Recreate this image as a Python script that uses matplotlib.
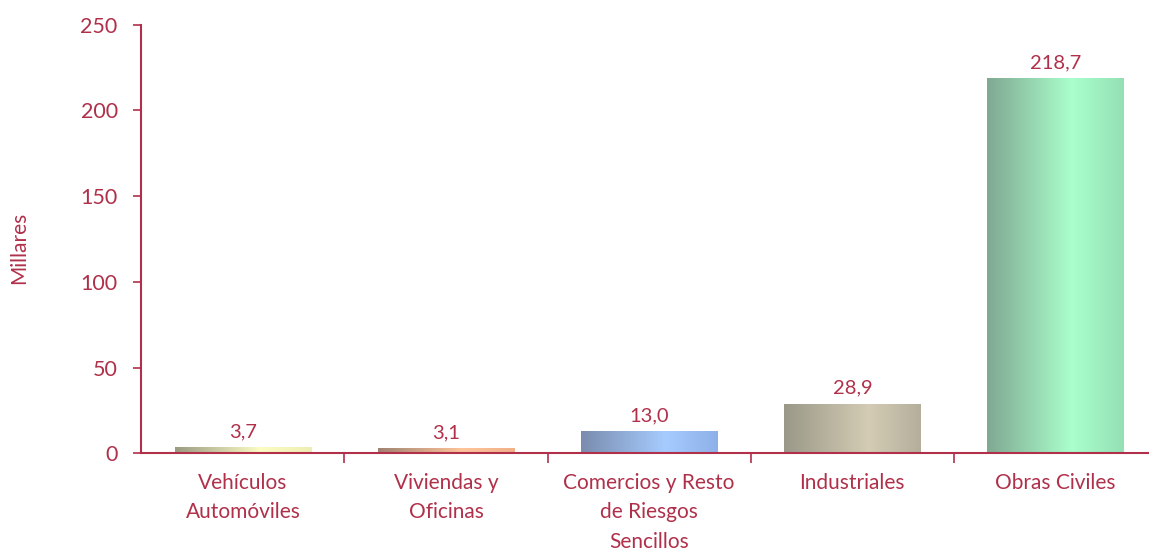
import numpy as np
import matplotlib.pyplot as plt
from matplotlib.colors import LinearSegmentedColormap

categories = [
    "Vehículos\nAutomóviles",
    "Viviendas y\nOficinas",
    "Comercios y Resto\nde Riesgos\nSencillos",
    "Industriales",
    "Obras Civiles",
]
values = [3.7, 3.1, 13.0, 28.9, 218.7]
value_labels = ["3,7", "3,1", "13,0", "28,9", "218,7"]

# dark edge, light highlight, right edge
bar_colors = [
    ("#9a9a82", "#fbfbc4", "#eeeeb4"),
    ("#a08272", "#ffc49a", "#f0b08a"),
    ("#7a8cae", "#a6ccff", "#8eb0e8"),
    ("#9a9888", "#d4ccb4", "#b4ae9c"),
    ("#80a892", "#aaffcc", "#94e0b4"),
]

red = "#b0304a"
plt.rcParams["font.family"] = ["Lato", "DejaVu Sans"]

fig = plt.figure(figsize=(11.49, 5.5), dpi=100)
ax = fig.add_axes([0.123, 0.176, 0.884, 0.779])

x = np.arange(len(categories))
bars = ax.bar(x, values, width=0.67, color="none", edgecolor="none", zorder=2)

# horizontal gradient fill, clipped to each bar
grad = np.linspace(0, 1, 256).reshape(1, -1)
for bar, cols in zip(bars, bar_colors):
    cmap = LinearSegmentedColormap.from_list(
        "g", [(0, cols[0]), (0.62, cols[1]), (1, cols[2])]
    )
    x0 = bar.get_x()
    w = bar.get_width()
    h = bar.get_height()
    im = ax.imshow(grad, cmap=cmap, aspect="auto", extent=(x0, x0 + w, 0, h),
                   zorder=2, interpolation="bicubic")
    im.set_clip_path(bar)

for xi, v, lab in zip(x, values, value_labels):
    ax.annotate(lab, (xi, v), xytext=(0, 5), textcoords="offset points",
                ha="center", va="bottom", color=red, fontsize=14.5)

ax.set_xlim(-0.5, 4.5)
ax.set_ylim(0, 250)
ax.set_yticks([0, 50, 100, 150, 200, 250])
ax.set_xticks(x)
ax.set_xticklabels(categories, fontsize=15, color=red, linespacing=1.6)
ax.set_xticks(np.arange(0.5, 4.5, 1), minor=True)
ax.tick_params(axis="x", which="major", length=0, pad=14)
ax.tick_params(axis="x", which="minor", length=7, color=red, width=1.2)
ax.tick_params(axis="y", length=6, color=red, width=1.2, labelsize=15.5,
               labelcolor=red, pad=11)
ax.set_ylabel("Millares", color=red, fontsize=15, labelpad=37)
ax.yaxis.label.set_y(0.48)

for s in ["top", "right"]:
    ax.spines[s].set_visible(False)
for s in ["left", "bottom"]:
    ax.spines[s].set_color(red)
    ax.spines[s].set_linewidth(1.5)

fig.savefig("out.png", dpi=100)
